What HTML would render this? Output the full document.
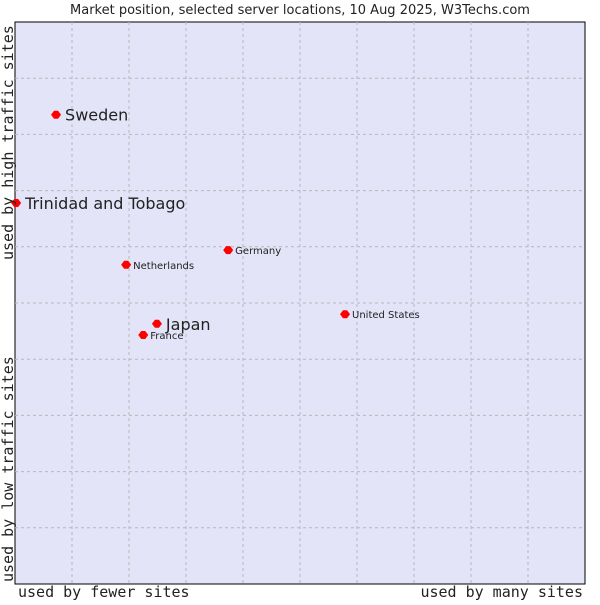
<!DOCTYPE html>
<html><head><meta charset="utf-8"><style>
body{margin:0;background:#fff;width:600px;height:600px;overflow:hidden}
svg text{font-family:"DejaVu Sans","Liberation Sans",sans-serif;fill:#222}
</style></head><body>
<svg id="chart" width="600" height="600">
<text x="300" y="14" text-anchor="middle" font-size="13">Market position, selected server locations, 10 Aug 2025, W3Techs.com</text>
<rect x="15" y="22" width="570" height="562" fill="#e3e4f8" stroke="#000" stroke-width="1"/>
<g id="grid"></g>
<g id="points"></g>
<text x="18" y="597" font-size="15" style="font-family:'DejaVu Sans Mono','Liberation Mono',monospace">used by fewer sites</text>
<text x="583" y="597" text-anchor="end" font-size="15" style="font-family:'DejaVu Sans Mono','Liberation Mono',monospace">used by many sites</text>
<text transform="translate(13,582) rotate(-90)" font-size="15" style="font-family:'DejaVu Sans Mono','Liberation Mono',monospace">used by low traffic sites</text>
<text transform="translate(13,260) rotate(-90)" font-size="15" style="font-family:'DejaVu Sans Mono','Liberation Mono',monospace">used by high traffic sites</text>
</svg>
<script>
const names=["Sweden","Trinidad and Tobago","Germany","Netherlands","United States","Japan","France"];
const xVals=[7.2,0.2,37.4,19.5,57.9,24.9,22.5];
const yVals=[83.5,67.8,59.4,56.8,48.0,46.3,44.3];
const big=[true,true,false,false,false,true,false];
const X0=15,X1=585,Y0=584,Y1=22;
const sx=v=>X0+(X1-X0)*v/100, sy=v=>Y0-(Y0-Y1)*v/100;
const NS="http://www.w3.org/2000/svg";
const grid=document.getElementById('grid');
for(let i=1;i<10;i++){
 const v=document.createElementNS(NS,'line');
 v.setAttribute('x1',sx(i*10));v.setAttribute('x2',sx(i*10));v.setAttribute('y1',Y1);v.setAttribute('y2',Y0);
 v.setAttribute('stroke','#b8b8b8');v.setAttribute('stroke-dasharray','3,3');
 
 
 grid.appendChild(v);
 const h=document.createElementNS(NS,'line');
 h.setAttribute('y1',sy(i*10));h.setAttribute('y2',sy(i*10));h.setAttribute('x1',X0);h.setAttribute('x2',X1);
 h.setAttribute('stroke','#b8b8b8');h.setAttribute('stroke-dasharray','3,3');
 
 
 grid.appendChild(h);
}
const pts=document.getElementById('points');
names.forEach((n,i)=>{
 const x=sx(xVals[i]),y=sy(yVals[i]);
 const m=document.createElementNS(NS,'path');
 m.setAttribute('d',`M${x-5},${y}L${x-2},${y-4}L${x+2},${y-4}L${x+5},${y}L${x+2},${y+4}L${x-2},${y+4}Z`);
 m.setAttribute('fill','#ff0000');
 
 
 pts.appendChild(m);
 const t=document.createElementNS(NS,'text');
 t.setAttribute('x',x+(big[i]?9:7));
 t.setAttribute('y',y+(big[i]?6:4));
 t.setAttribute('font-size',big[i]?16:10);
 t.textContent=n;
 
 
 pts.appendChild(t);
});
</script>
</body></html>
